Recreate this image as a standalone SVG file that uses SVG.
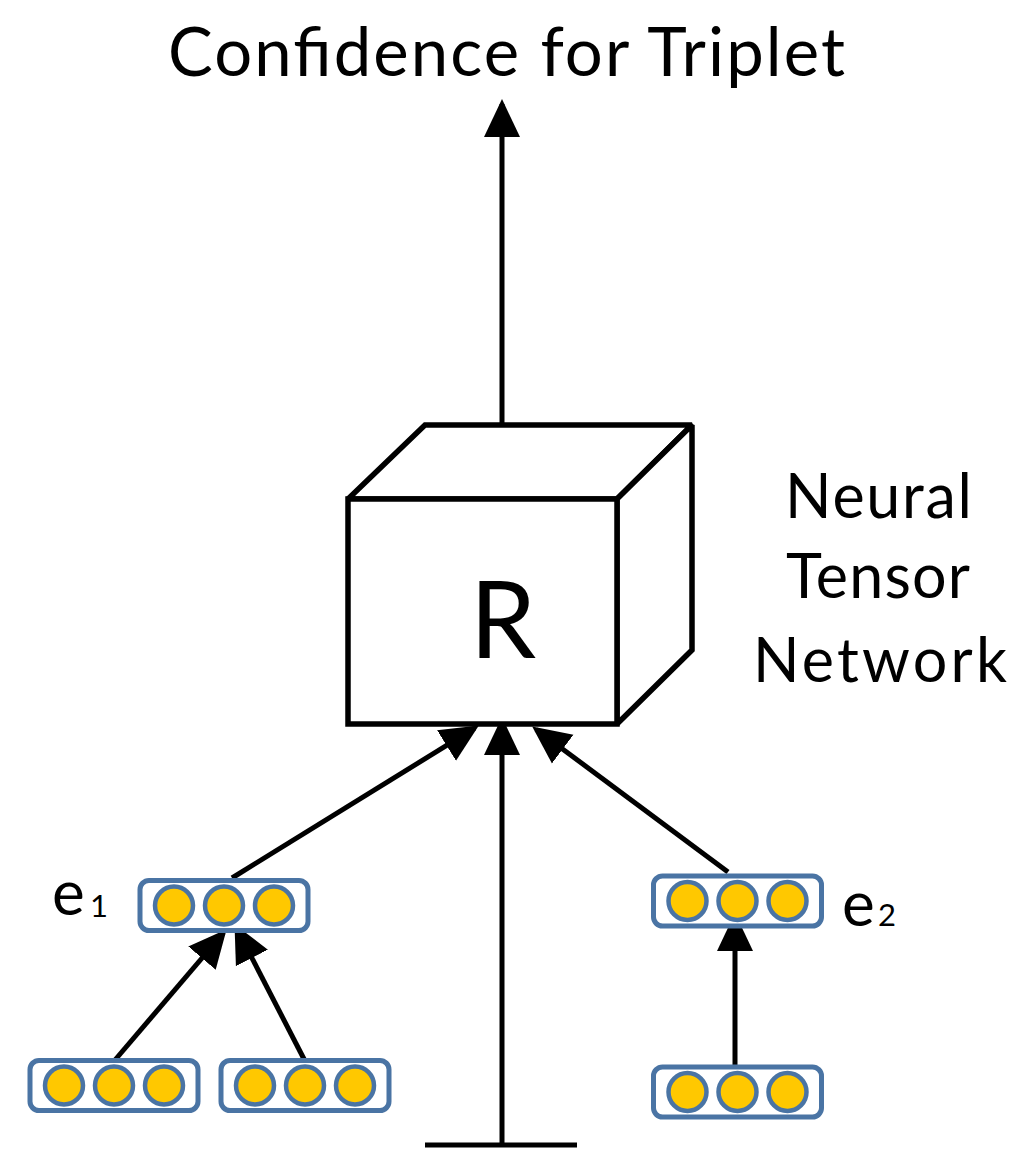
<svg xmlns="http://www.w3.org/2000/svg" width="1024" height="1153" viewBox="0 0 1024 1153">
<defs>
<style>
text{font-family:Lato,"Liberation Sans","DejaVu Sans",sans-serif;fill:#000}
.edge{stroke:#000;stroke-width:5;fill:none;marker-end:url(#ah)}
.cube{fill:#fff;stroke:#000;stroke-width:5.5;stroke-linejoin:miter;stroke-miterlimit:2.5}
.vbox{fill:#fff;stroke:#4a74a4;stroke-width:5}
.unit{fill:#ffc800;stroke:#4a74a4;stroke-width:4.5}
</style>
<marker id="ah" markerUnits="userSpaceOnUse" markerWidth="38" markerHeight="38" viewBox="0 0 38 38" refX="33" refY="19" orient="auto">
<path d="M0,1 L38,19 L0,37 z" fill="#000"/>
</marker>
<g id="vec">
<rect class="vbox" x="-84" y="-25" width="168" height="50" rx="9"/>
<circle class="unit" cx="-50" cy="0" r="19"/>
<circle class="unit" cx="0" cy="0" r="19"/>
<circle class="unit" cx="50" cy="0" r="19"/>
</g>
</defs>
<rect width="1024" height="1153" fill="#fff"/>

<g id="title">
<text x="168" y="76" font-size="67" textLength="677" lengthAdjust="spacing">Confidence for Triplet</text>
</g>

<g id="connectors">
<line class="edge" x1="502" y1="425" x2="502" y2="104"/>
<line class="edge" x1="502" y1="1145" x2="502" y2="722"/>
<line x1="425" y1="1145" x2="577" y2="1145" stroke="#000" stroke-width="5"/>
<line class="edge" x1="232" y1="878" x2="474.6" y2="728.1"/>
<line class="edge" x1="728" y1="872" x2="536.2" y2="729.4"/>
<line class="edge" x1="115" y1="1060" x2="223.4" y2="933"/>
<line class="edge" x1="305" y1="1061" x2="236.8" y2="928.6"/>
<line class="edge" x1="735" y1="1068" x2="735" y2="918"/>
</g>

<g id="ntn">
<polygon class="cube" points="348,499 425,425 692,425 617,499"/>
<polygon class="cube" points="617,499 692,425 692,650 617,724"/>
<rect class="cube" x="348" y="499" width="269" height="225"/>
<text x="503" y="658" font-size="106" text-anchor="middle">R</text>
</g>

<g id="ntn-label">
<text x="785" y="518" font-size="61" textLength="187" lengthAdjust="spacing">Neural</text>
<text x="786" y="598" font-size="61" textLength="184" lengthAdjust="spacing">Tensor</text>
<text x="753" y="682" font-size="61" textLength="254" lengthAdjust="spacing">Network</text>
</g>

<g id="e1">
<use href="#vec" x="224" y="905.5"/>
<text x="52" y="915" font-size="62">e<tspan x="90" y="917" font-size="31">1</tspan></text>
</g>

<g id="e2">
<use href="#vec" x="737.5" y="901"/>
<text x="842" y="926" font-size="62">e<tspan x="878" font-size="31">2</tspan></text>
</g>

<g id="word1">
<use href="#vec" x="114" y="1085.5"/>
</g>
<g id="word2">
<use href="#vec" x="305" y="1085.5"/>
</g>
<g id="word3">
<use href="#vec" x="737.5" y="1092"/>
</g>
</svg>
